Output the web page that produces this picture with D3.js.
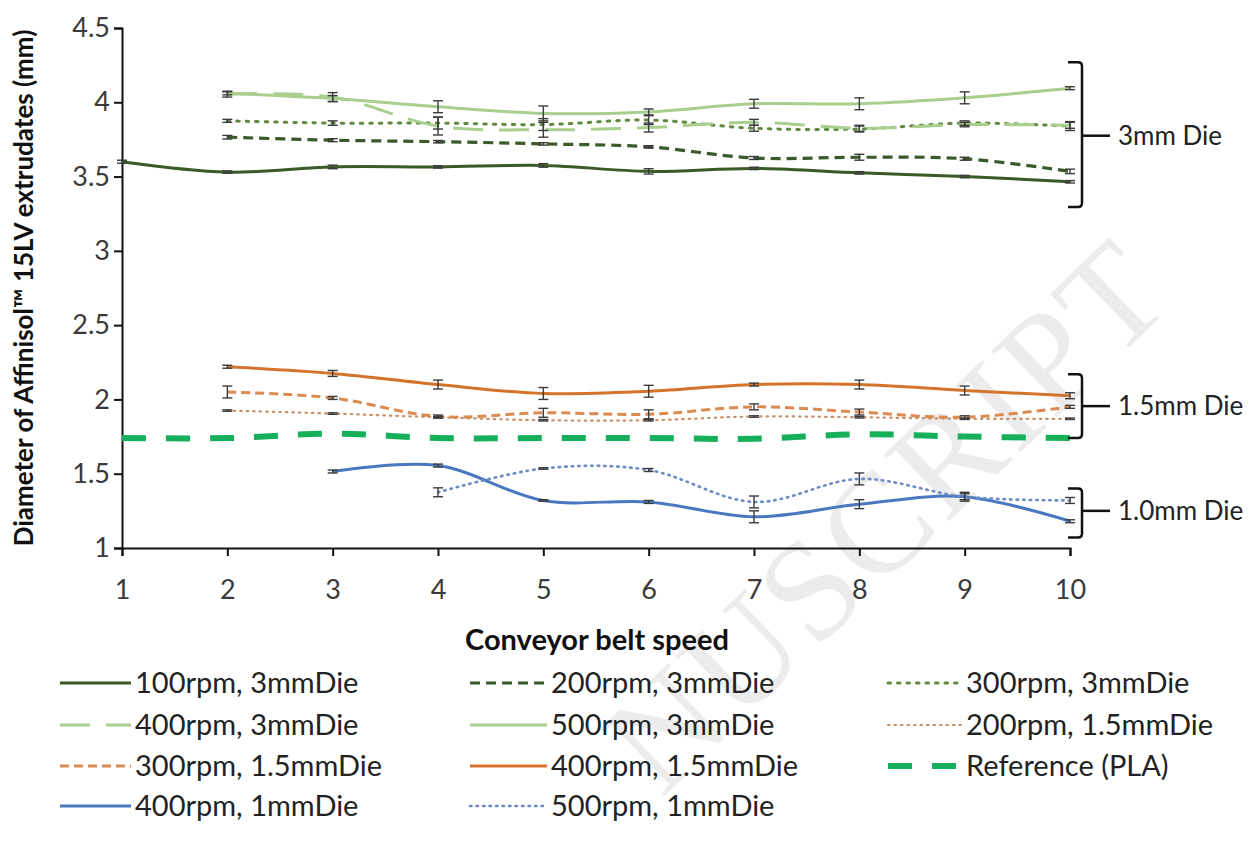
<!DOCTYPE html>
<html>
<head>
<meta charset="utf-8">
<script src="https://cdn.jsdelivr.net/npm/d3@7"></script>
<style>
  html, body { margin: 0; padding: 0; background: #ffffff; }
  svg { display: block; }
  text { font-family: Lato, "Open Sans", "DejaVu Sans", sans-serif; }
</style>
</head>
<body>
<svg id="chart" width="1255" height="845"></svg>
<script>
// Conveyor belt speed settings (x values)
const speeds = [1, 2, 3, 4, 5, 6, 7, 8, 9, 10];

// Mean filament diameter (mm) per belt speed; null = not measured
const rpm100_3mm  = [3.60, 3.53, 3.565, 3.565, 3.575, 3.535, 3.555, 3.525, 3.50, 3.465];
const rpm200_3mm  = [null, 3.765, 3.745, 3.735, 3.72, 3.70, 3.625, 3.63, 3.62, 3.535];
const rpm300_3mm  = [null, 3.875, 3.86, 3.86, 3.85, 3.88, 3.825, 3.82, 3.86, 3.84];
const rpm400_3mm  = [null, 4.055, 4.035, 3.84, 3.815, 3.83, 3.865, 3.825, 3.85, 3.845];
const rpm500_3mm  = [null, 4.06, 4.025, 3.97, 3.925, 3.935, 3.99, 3.99, 4.03, 4.095];
const rpm200_15mm = [null, 1.925, 1.905, 1.88, 1.86, 1.86, 1.885, 1.88, 1.87, 1.87];
const rpm300_15mm = [null, 2.05, 2.01, 1.885, 1.91, 1.90, 1.95, 1.915, 1.88, 1.95];
const rpm400_15mm = [null, 2.22, 2.175, 2.10, 2.04, 2.055, 2.10, 2.10, 2.06, 2.025];
const referencePLA = [1.74, 1.74, 1.77, 1.74, 1.74, 1.74, 1.735, 1.765, 1.75, 1.74];
const rpm400_1mm  = [null, null, 1.515, 1.555, 1.32, 1.31, 1.21, 1.295, 1.345, 1.18];
const rpm500_1mm  = [null, null, null, 1.375, 1.535, 1.525, 1.31, 1.465, 1.345, 1.32];

// Standard deviations (mm)
const err100_3mm  = [0.01, 0.008, 0.012, 0.008, 0.012, 0.018, 0.008, 0.008, 0.008, 0.008];
const err200_3mm  = [null, 0.012, 0.01, 0.008, 0.008, 0.008, 0.01, 0.02, 0.01, 0.015];
const err300_3mm  = [null, 0.01, 0.015, 0.04, 0.04, 0.03, 0.02, 0.02, 0.015, 0.03];
const err400_3mm  = [null, 0.02, 0.03, 0.06, 0.05, 0.03, 0.02, 0.02, 0.015, 0.02];
const err500_3mm  = [null, 0.01, 0.02, 0.04, 0.05, 0.02, 0.03, 0.04, 0.04, 0.01];
const err200_15mm = [null, 0.005, 0.005, 0.005, 0.005, 0.005, 0.005, 0.005, 0.005, 0.005];
const err300_15mm = [null, 0.04, 0.01, 0.01, 0.03, 0.03, 0.02, 0.02, 0.01, 0.01];
const err400_15mm = [null, 0.01, 0.02, 0.03, 0.04, 0.04, 0.01, 0.03, 0.03, 0.02];
const err400_1mm  = [null, null, 0.01, 0.01, 0.005, 0.01, 0.04, 0.03, 0.03, 0.01];
const err500_1mm  = [null, null, null, 0.03, 0.005, 0.01, 0.04, 0.04, 0.02, 0.02];

// Tick labels
const yTicks = [1, 1.5, 2, 2.5, 3, 3.5, 4, 4.5];
const xTicks = speeds;

// Die-size groupings shown with brackets on the right
const dieGroups = [
  { label: "3mm Die",   top: 4.27, bottom: 3.295, mid: 3.775 },
  { label: "1.5mm Die", top: 2.17, bottom: 1.74,  mid: 1.955 },
  { label: "1.0mm Die", top: 1.40, bottom: 1.07,  mid: 1.25 }
];

const series = [
  { name: "100rpm, 3mmDie",   values: rpm100_3mm,  err: err100_3mm,  color: "#3a5a27", width: 3,   dash: null },
  { name: "200rpm, 3mmDie",   values: rpm200_3mm,  err: err200_3mm,  color: "#3a5a27", width: 3.2, dash: "10,6" },
  { name: "300rpm, 3mmDie",   values: rpm300_3mm,  err: err300_3mm,  color: "#5e8a3e", width: 3,   dash: "2.5,7", cap: "round" },
  { name: "400rpm, 3mmDie",   values: rpm400_3mm,  err: err400_3mm,  color: "#a8cf8e", width: 3,   dash: "30,16" },
  { name: "500rpm, 3mmDie",   values: rpm500_3mm,  err: err500_3mm,  color: "#a8cf8e", width: 3,   dash: null },
  { name: "200rpm, 1.5mmDie", values: rpm200_15mm, err: err200_15mm, color: "#c99068", width: 2.2, dash: "1.5,5", cap: "round" },
  { name: "300rpm, 1.5mmDie", values: rpm300_15mm, err: err300_15mm, color: "#db8a52", width: 3,   dash: "9,5" },
  { name: "400rpm, 1.5mmDie", values: rpm400_15mm, err: err400_15mm, color: "#d4732a", width: 3,   dash: null },
  { name: "Reference (PLA)",  values: referencePLA, err: null,       color: "#16b05a", width: 6,   dash: "24,20" },
  { name: "400rpm, 1mmDie",   values: rpm400_1mm,  err: err400_1mm,  color: "#4a78c0", width: 3,   dash: null },
  { name: "500rpm, 1mmDie",   values: rpm500_1mm,  err: err500_1mm,  color: "#6a8cc4", width: 2.6, dash: "1.5,5", cap: "round" }
];

const svg = d3.select("#chart");
const W = 1255, H = 845;
const margin = { left: 122, right: 185, top: 28, bottom: 297 };

const x = d3.scaleLinear().domain([1, 10]).range([margin.left, W - margin.right]);
const y = d3.scaleLinear().domain([1, 4.5]).range([H - margin.bottom, margin.top]);

// Faint watermark behind everything
svg.append("text")
  .attr("transform", "translate(1178,300) rotate(-44)")
  .attr("text-anchor", "end")
  .style("font-family", "'Liberation Serif', 'DejaVu Serif', serif")
  .style("font-size", "142px")
  .style("letter-spacing", "4px")
  .attr("fill", "#ececec")
  .text("NUSCRIPT");

// Axes
const yAxis = svg.append("g")
  .attr("transform", `translate(${margin.left},0)`)
  .call(d3.axisLeft(y).tickValues(yTicks).tickSize(8).tickPadding(4).tickFormat(d => String(d)));
const xAxis = svg.append("g")
  .attr("transform", `translate(0,${y(1)})`)
  .call(d3.axisBottom(x).tickValues(xTicks).tickSize(8).tickPadding(31).tickFormat(d => String(d)));

[yAxis, xAxis].forEach(g => {
  g.select(".domain").attr("stroke", "#111").attr("stroke-width", 2);
  g.selectAll(".tick line").attr("stroke", "#111").attr("stroke-width", 2);
  g.selectAll(".tick text").attr("fill", "#3a3a3a").style("font-size", "27px");
});
xAxis.selectAll(".tick text").attr("dy", "0.45em");

// Axis titles
svg.append("text")
  .attr("transform", `translate(33,${(y(1) + y(4.5)) / 2}) rotate(-90)`)
  .attr("text-anchor", "middle")
  .style("font-size", "26px").style("font-weight", "bold").attr("fill", "#111")
  .text("Diameter of Affinisol™ 15LV extrudates (mm)");
svg.append("text")
  .attr("x", 597).attr("y", 650)
  .attr("text-anchor", "middle")
  .style("font-size", "29px").style("font-weight", "bold").attr("fill", "#111")
  .text("Conveyor belt speed");

// Lines
const line = d3.line()
  .x(d => x(d.s)).y(d => y(d.v))
  .curve(d3.curveCatmullRom.alpha(0));

const plot = svg.append("g");
series.forEach(sr => {
  const pts = speeds.map((s, i) => ({ s, v: sr.values[i], e: sr.err ? sr.err[i] : null }))
    .filter(d => d.v != null);
  sr.pts = pts;
  plot.append("path")
    .datum(pts)
    .attr("d", line)
    .attr("fill", "none")
    .attr("stroke", sr.color)
    .attr("stroke-width", sr.width)
    .attr("stroke-linecap", sr.cap || "butt")
    .attr("stroke-dasharray", sr.dash);
});

// Error bars
const eb = svg.append("g").attr("stroke", "#3c3c3c").attr("stroke-width", 1.4);
series.forEach(sr => {
  if (!sr.err) return;
  sr.pts.forEach(d => {
    if (d.e == null) return;
    const x0 = x(d.s), y1 = y(d.v + d.e), y2 = y(d.v - d.e);
    eb.append("line").attr("x1", x0).attr("x2", x0).attr("y1", y1).attr("y2", y2);
    eb.append("line").attr("x1", x0 - 5).attr("x2", x0 + 5).attr("y1", y1).attr("y2", y1);
    eb.append("line").attr("x1", x0 - 5).attr("x2", x0 + 5).attr("y1", y2).attr("y2", y2);
  });
});

// Die-size brackets
const bx = x(10) + 12;
dieGroups.forEach(g => {
  const t = y(g.top), b = y(g.bottom), m = y(g.mid), r = 4;
  svg.append("path")
    .attr("d", `M${bx - 14},${t} L${bx - r},${t} Q${bx},${t} ${bx},${t + r} L${bx},${b - r} Q${bx},${b} ${bx - r},${b} L${bx - 14},${b}`)
    .attr("fill", "none").attr("stroke", "#111").attr("stroke-width", 2.5);
  svg.append("line")
    .attr("x1", bx).attr("x2", bx + 28).attr("y1", m).attr("y2", m)
    .attr("stroke", "#111").attr("stroke-width", 2.5);
  svg.append("text")
    .attr("x", bx + 36).attr("y", m).attr("dy", "0.35em")
    .style("font-size", "26px").attr("fill", "#222")
    .text(g.label);
});

// Legend: 3 columns, row-major
const legCols = [{ lx: 60, tx: 135 }, { lx: 470, tx: 551 }, { lx: 888, tx: 966 }];
const legRows = [683, 725, 766, 806];
const legend = svg.append("g");
series.forEach((sr, i) => {
  const c = legCols[i % 3], ry = legRows[Math.floor(i / 3)];
  legend.append("line")
    .attr("x1", c.lx).attr("x2", c.tx - 4).attr("y1", ry).attr("y2", ry)
    .attr("stroke", sr.color)
    .attr("stroke-width", sr.width)
    .attr("stroke-linecap", sr.cap || "butt")
    .attr("stroke-dasharray", sr.dash);
  legend.append("text")
    .attr("x", c.tx).attr("y", ry).attr("dy", "0.35em")
    .style("font-size", "29px").attr("fill", "#222")
    .text(sr.name);
});
</script>
</body>
</html>
